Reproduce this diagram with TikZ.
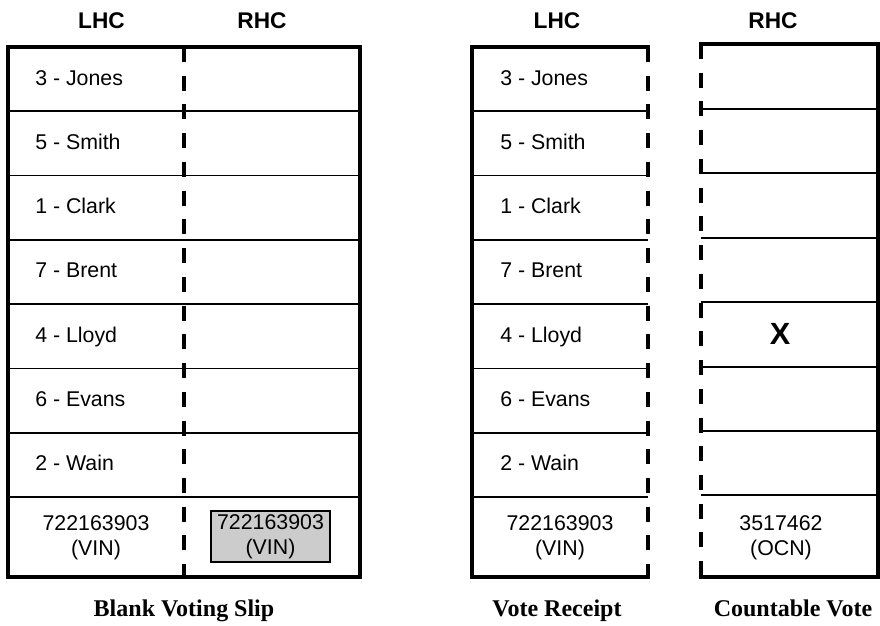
\documentclass[tikz,border=0pt]{standalone}
\usepackage{fontspec}
\setmainfont{Liberation Sans}
\newfontfamily\serifcaption{Liberation Serif}
\usepackage{tikz}
\usetikzlibrary{positioning}
\tikzset{
    colhead/.style={
        anchor=base, inner sep=0pt, font=\fontsize{17}{20}\selectfont\bfseries
    },
    candidate/.style={
        anchor=base west, inner sep=0pt, font=\fontsize{16}{19}\selectfont
    },
    serialno/.style={
        align=center, inner sep=0pt, font=\fontsize{16}{18.5}\selectfont
    },
    vinbox/.style={
        rectangle, draw=black, line width=1.1pt, fill=gray!40, minimum width=89pt, minimum height=38pt,
        align=center, inner sep=0pt, font=\fontsize{16}{18.5}\selectfont
    },
    votemark/.style={
        font=\fontsize{23}{26}\selectfont\bfseries
    },
    slipcaption/.style={
        anchor=base, inner sep=0pt, font=\serifcaption\fontsize{18}{21}\selectfont\bfseries
    },
    frame/.style={
        line width=2.3pt, line cap=rect
    },
    rowline/.style={
        line width=1.2pt
    },
    tearline/.style={
        line width=2.3pt, dash pattern=on 11.25pt off 10.3pt
    }
}

\begin{document}
\begin{tikzpicture}[x=0.75pt, y=-0.75pt]
    \useasboundingbox (0,0) rectangle (880,625);

    \node[colhead] (blankL) at (101.5, 28) {LHC};
    \node[colhead] (blankR) at (262, 28) {RHC};
    \node[colhead] (receiptL) at (557, 28) {LHC};
    \node[colhead] (countR) at (773, 28) {RHC};

    \draw[frame] (8,47) rectangle (360,577);
    \foreach \i in {1,...,7}
        \draw[rowline] (8,{47+64.29*\i}) -- (360,{47+64.29*\i});
    \draw[tearline] (184,47) -- (184,577);

    \draw[frame] (648,47) -- (472,47) -- (472,577) -- (648,577);
    \foreach \i in {1,...,7}
        \draw[rowline] (472,{47+64.29*\i}) -- (648,{47+64.29*\i});
    \draw[tearline] (648,47) -- (648,577);

    \draw[frame] (701,44) -- (878,44) -- (878,577) -- (701,577);
    \foreach \y in {109,173,238,302,367,431,495}
        \draw[rowline] (701,\y) -- (878,\y);
    \draw[tearline] (701,44) -- (701,577);

    \foreach \name [count=\i from 0] in {3 - Jones, 5 - Smith, 1 - Clark, 7 - Brent, 4 - Lloyd, 6 - Evans, 2 - Wain} {
        \node[candidate] (blank\i) at (35,{85+64.29*\i}) {\name};
        \node[candidate] (receipt\i) at (500,{85+64.29*\i}) {\name};
    }

    \node[serialno] (blankvin) at (96,538) {722163903\\(VIN)};
    \node[vinbox] (copyvin) at (270.5,536.5) {722163903\\(VIN)};
    \node[serialno] (receiptvin) at (560,538) {722163903\\(VIN)};
    \node[serialno] (ocn) at (781,538) {3517462\\(OCN)};
    \node[votemark] (mark) at (780,334) {X};

    \node[slipcaption] (blank) at (184,616) {Blank Voting Slip};
    \node[slipcaption] (receipt) at (557,616) {Vote Receipt};
    \node[slipcaption] (countable) at (793,616) {Countable Vote};
\end{tikzpicture}
\end{document}
